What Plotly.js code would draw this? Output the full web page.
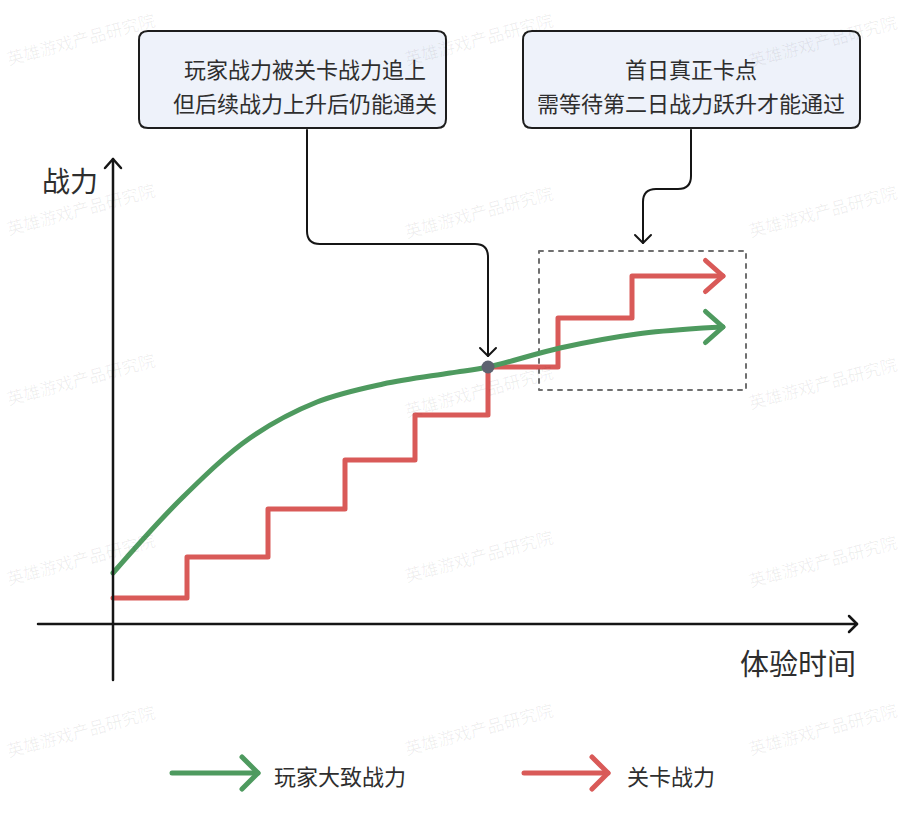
<!DOCTYPE html>
<html>
<head>
<meta charset="utf-8">
<script src="https://cdn.plot.ly/plotly-3.0.1.min.js"></script>
<style>
  html, body { margin: 0; padding: 0; background: #ffffff; }
  #chart { width: 900px; height: 824px; }
  .js-line { stroke-linecap: round; stroke-linejoin: round; }
  .shapelayer path { stroke-linecap: round; stroke-linejoin: round; }
</style>
</head>
<body>
<div id="chart"></div>
<script>
// ---------------- data ----------------
const seriesNames = ['玩家大致战力', '关卡战力'];
const playerX = [0, 7.0, 13.7, 20.4, 27.0, 33.7, 37.5, 44.7, 52.4, 59.0, 61.0];
const playerY = [5.1, 12.7, 18.6, 22.2, 24.0, 25.1, 25.7, 27.6, 29.0, 29.6, 29.7];
const levelX = [0, 7.4, 15.5, 23.2, 30.2, 37.5, 44.5, 51.9, 61.0];
const levelY = [2.6, 6.7, 11.5, 16.4, 20.9, 25.7, 30.6, 34.8, 34.8];
const catchPointX = [37.5];
const catchPointY = [25.7];
const axisYLabel = '战力';
const axisXLabel = '体验时间';
const note1 = ['玩家战力被关卡战力追上', '但后续战力上升后仍能通关'];
const note2 = ['首日真正卡点', '需等待第二日战力跃升才能通过'];
const watermark = '英雄游戏产品研究院';

// ---------------- style ----------------
const GREEN = '#4e9a5f';
const RED = '#d95a58';
const INK = '#151515';
const TEXT = '#2e2e2e';
const FONT = '"Noto Sans CJK SC", "Noto Sans", sans-serif';

// plot area = whole figure; 10 px per data unit, origin at pixel (113, 624)
const X0 = 113, Y0 = 624, S = 10;
const XR = [-X0 / S, (900 - X0) / S];
const YR = [(Y0 - 824) / S, Y0 / S];
const dx = px => (px - X0) / S;
const dy = py => (Y0 - py) / S;
const pt = (px, py) => dx(px).toFixed(3) + ',' + dy(py).toFixed(3);

function pathFromPx(cmds) {
  return cmds.map(c => {
    const L = c[0];
    const nums = c.slice(1);
    const parts = [];
    for (let i = 0; i < nums.length; i += 2) parts.push(pt(nums[i], nums[i + 1]));
    return L + parts.join(' ');
  }).join(' ');
}
function roundRect(x0, y0, x1, y1, r) {
  return pathFromPx([
    ['M', x0 + r, y0], ['L', x1 - r, y0], ['Q', x1, y0, x1, y0 + r],
    ['L', x1, y1 - r], ['Q', x1, y1, x1 - r, y1],
    ['L', x0 + r, y1], ['Q', x0, y1, x0, y1 - r],
    ['L', x0, y0 + r], ['Q', x0, y0, x0 + r, y0]
  ]) + ' Z';
}
function pathShape(path, color, width, extra) {
  return Object.assign({
    type: 'path', xref: 'x', yref: 'y', path: path,
    line: { color: color, width: width }, layer: 'above'
  }, extra || {});
}

// ---------------- traces ----------------
const lastP = playerX.length - 1, lastL = levelX.length - 1;
const headDX = 1.75, headDY = 1.55;
const traces = [
  {
    x: levelX, y: levelY, mode: 'lines', name: seriesNames[1],
    line: { color: RED, width: 5, shape: 'hv' }, hoverinfo: 'skip', showlegend: false
  },
  {
    x: [levelX[lastL] - headDX, levelX[lastL], levelX[lastL] - headDX],
    y: [levelY[lastL] + headDY, levelY[lastL], levelY[lastL] - headDY],
    mode: 'lines', line: { color: RED, width: 5 }, hoverinfo: 'skip', showlegend: false
  },
  {
    x: playerX, y: playerY, mode: 'lines', name: seriesNames[0],
    line: { color: GREEN, width: 5, shape: 'spline', smoothing: 1 }, hoverinfo: 'skip', showlegend: false
  },
  {
    x: [playerX[lastP] - headDX, playerX[lastP], playerX[lastP] - headDX],
    y: [playerY[lastP] + headDY, playerY[lastP], playerY[lastP] - headDY],
    mode: 'lines', line: { color: GREEN, width: 5 }, hoverinfo: 'skip', showlegend: false
  },
  {
    x: catchPointX, y: catchPointY, mode: 'markers',
    marker: { color: '#5d6370', size: 13 }, hoverinfo: 'skip', showlegend: false
  }
];

// ---------------- shapes ----------------
const shapes = [
  // axes
  pathShape(pathFromPx([['M', 113, 680], ['L', 113, 159]]), INK, 2.5),
  pathShape(pathFromPx([['M', 105, 168], ['L', 113, 159], ['L', 121, 168]]), INK, 2.5),
  pathShape(pathFromPx([['M', 38, 624], ['L', 857, 624]]), INK, 2.5),
  pathShape(pathFromPx([['M', 849, 616], ['L', 857, 624], ['L', 849, 632]]), INK, 2.5),
  // dashed highlight box
  { type: 'path', xref: 'x', yref: 'y', layer: 'below',
    path: pathFromPx([['M', 539, 251], ['L', 746, 251], ['L', 746, 390], ['L', 539, 390]]) + ' Z',
    line: { color: '#6f6f6f', width: 2, dash: '4px,6px' } },
  // note boxes
  pathShape(roundRect(139, 31, 446, 128, 9), '#1d1d1d', 2, { fillcolor: '#eef2fa' }),
  pathShape(roundRect(523, 31, 860, 128, 9), '#1d1d1d', 2, { fillcolor: '#eef2fa' }),
  // connector 1
  pathShape(pathFromPx([['M', 307, 130], ['L', 307, 231], ['Q', 307, 244, 320, 244], ['L', 475, 244], ['Q', 488, 244, 488, 257], ['L', 488, 356]]), INK, 2),
  pathShape(pathFromPx([['M', 480, 348], ['L', 488, 356], ['L', 496, 348]]), INK, 2),
  // connector 2
  pathShape(pathFromPx([['M', 691, 130], ['L', 691, 176], ['Q', 691, 189, 678, 189], ['L', 656, 189], ['Q', 643, 189, 643, 202], ['L', 643, 243]]), INK, 2),
  pathShape(pathFromPx([['M', 635, 235], ['L', 643, 243], ['L', 651, 235]]), INK, 2),
  // legend arrows
  pathShape(pathFromPx([['M', 172, 773], ['L', 258, 773]]), GREEN, 5),
  pathShape(pathFromPx([['M', 242, 757], ['L', 258, 773], ['L', 242, 789]]), GREEN, 5),
  pathShape(pathFromPx([['M', 524, 773], ['L', 608, 773]]), RED, 5),
  pathShape(pathFromPx([['M', 592, 757], ['L', 608, 773], ['L', 592, 789]]), RED, 5)
];

// ---------------- annotations ----------------
function txt(text, px, py, size, anchor, extra) {
  return Object.assign({
    xref: 'x', yref: 'y', x: dx(px), y: dy(py), text: text, showarrow: false,
    xanchor: anchor || 'center', yanchor: 'middle',
    font: { family: FONT, size: size, color: TEXT }
  }, extra || {});
}
const annotations = [
  txt(axisYLabel, 40, 180, 28, 'left'),
  txt(axisXLabel, 858, 662, 29, 'right'),
  txt(note1[0], 305, 68, 22),
  txt(note1[1], 305, 102, 22),
  txt(note2[0], 691, 68, 22),
  txt(note2[1], 691, 102, 22),
  txt(seriesNames[0], 272, 775, 22, 'left'),
  txt(seriesNames[1], 625, 775, 22, 'left')
];
const wmPos = [[80, 38], [478, 38], [822, 40], [80, 208], [478, 211], [822, 210], [80, 378], [478, 390], [822, 382],
               [80, 558], [478, 555], [822, 560], [80, 730], [478, 728], [822, 728]];
wmPos.forEach(p => annotations.push(txt(watermark, p[0], p[1], 17, 'center', {
  textangle: -15, font: { family: FONT, size: 17, color: 'rgba(0,0,0,0.065)' }
})));

const layout = {
  width: 900, height: 824,
  margin: { l: 0, r: 0, t: 0, b: 0 },
  paper_bgcolor: '#ffffff', plot_bgcolor: '#ffffff',
  xaxis: { range: XR, visible: false, fixedrange: true },
  yaxis: { range: YR, visible: false, fixedrange: true },
  showlegend: false,
  shapes: shapes,
  annotations: annotations
};

Plotly.newPlot('chart', traces, layout, { staticPlot: true, displayModeBar: false });
</script>
</body>
</html>
